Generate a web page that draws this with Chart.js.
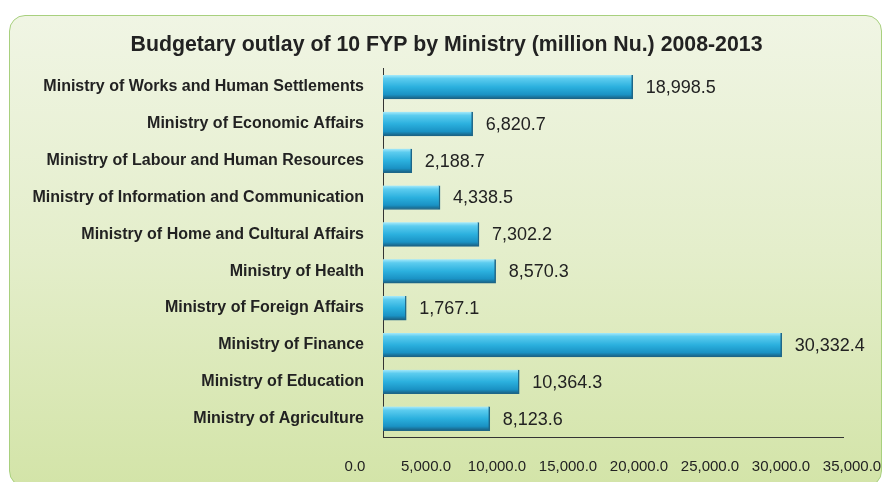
<!DOCTYPE html>
<html>
<head>
<meta charset="utf-8">
<script src="https://cdn.jsdelivr.net/npm/chart.js@4.4.1/dist/chart.umd.min.js"></script>
<style>
  body { margin: 0; background: #fff; }
  #panel {
    position: absolute; left: 9px; top: 15px; width: 871px; height: 470px;
    border: 1.5px solid #a8d07e; border-radius: 16px;
    background: linear-gradient(to bottom, #f0f5e4 0%, #e4eecb 50%, #d3e4a8 100%);
  }
  #wrap { position: absolute; left: 0; top: 0; width: 884px; height: 482px; }
</style>
</head>
<body>
<div id="panel"></div>
<div id="wrap"><canvas id="budget-chart" width="884" height="482"></canvas></div>
<script>
var ministries = [
    'Ministry of Works and Human Settlements',
    'Ministry of Economic Affairs',
    'Ministry of Labour and Human Resources',
    'Ministry of Information and Communication',
    'Ministry of Home and Cultural Affairs',
    'Ministry of Health',
    'Ministry of Foreign Affairs',
    'Ministry of Finance',
    'Ministry of Education',
    'Ministry of Agriculture'
];
var outlay = [18998.5, 6820.7, 2188.7, 4338.5, 7302.2, 8570.3, 1767.1, 30332.4, 10364.3, 8123.6];
var xTicks = [0, 5000, 10000, 15000, 20000, 25000, 30000, 35000];

function fmt(v) {
    return v.toLocaleString('en-US', {minimumFractionDigits: 1, maximumFractionDigits: 1});
}

var FONT = '"Liberation Sans", Arial, sans-serif';
var BAR_H = 24;

// give every bar its own vertical gradient once positions are known
var barShading = {
    id: 'barShading',
    afterLayout: function(chart) {
        // original title sits a little right of the canvas centre
        if (chart.titleBlock) chart.titleBlock.left = 50;
    },
    beforeDatasetsDraw: function(chart) {
        var c = chart.ctx;
        chart.getDatasetMeta(0).data.forEach(function(bar) {
            var top = bar.y - bar.height / 2, bot = bar.y + bar.height / 2;
            if (!isFinite(top) || !isFinite(bot)) return;
            var g = c.createLinearGradient(0, top, 0, bot);
            g.addColorStop(0, '#a6eafb');
            g.addColorStop(0.15, '#5cccef');
            g.addColorStop(0.5, '#2bb0de');
            g.addColorStop(0.82, '#1a92c4');
            g.addColorStop(1, '#1a5d7e');
            bar.options.backgroundColor = g;
        });
    }
};

var valueLabels = {
    id: 'valueLabels',
    afterDatasetsDraw: function(chart) {
        var c = chart.ctx;
        var meta = chart.getDatasetMeta(0);
        c.save();
        c.font = '18px ' + FONT;
        c.fillStyle = '#222';
        c.textBaseline = 'middle';
        c.textAlign = 'left';
        meta.data.forEach(function(bar, i) {
            c.fillText(fmt(outlay[i]), bar.x + 13, bar.y + 1);
        });
        c.restore();
    }
};

window.onload = function() {
    var ctx = document.getElementById('budget-chart');
    new Chart(ctx, {
        type: 'bar',
        data: {
            labels: ministries,
            datasets: [{
                data: outlay,
                xAxisID: 'x',
                // scriptable so each bar keeps its own options object
                backgroundColor: function() { return '#2bb0de'; },
                borderColor: '#1d6688',
                borderWidth: {top: 0, left: 0, right: 1.5, bottom: 1},
                borderSkipped: 'left',
                barThickness: BAR_H
            }]
        },
        options: {
            indexAxis: 'y',
            responsive: false,
            animation: false,
            layout: {padding: {left: 0, right: 41, top: 0, bottom: 9}},
            plugins: {
                legend: {display: false},
                tooltip: {enabled: false},
                title: {
                    display: true,
                    text: 'Budgetary outlay of 10 FYP by Ministry (million Nu.) 2008-2013',
                    color: '#222',
                    font: {family: FONT, size: 21.3, weight: 'bold'},
                    padding: {top: 32, bottom: 11}
                }
            },
            scales: {
                x: {
                    min: 0,
                    max: 35000,
                    weight: 0,
                    afterFit: function(scale) { scale.height = 0; },
                    grid: {display: false, drawTicks: false},
                    border: {display: true, color: '#333', width: 1},
                    ticks: {display: false}
                },
                // label-only axis: the original spreads its tick labels a bit wider than the plot
                xLabels: {
                    type: 'linear',
                    position: 'bottom',
                    axis: 'x',
                    weight: 1,
                    min: 1972,
                    max: 34366,
                    afterBuildTicks: function(scale) {
                        scale.ticks = xTicks.map(function(v) { return {value: v}; });
                    },
                    afterFit: function(scale) {
                        scale.height = 36;
                        scale.paddingLeft = 0;
                        scale.paddingRight = 0;
                    },
                    grid: {display: false, drawTicks: false},
                    border: {display: false},
                    ticks: {
                        autoSkip: false,
                        maxRotation: 0,
                        padding: 21,
                        color: '#222',
                        font: {family: FONT, size: 15},
                        callback: function(v) { return fmt(v); }
                    }
                },
                y: {
                    afterFit: function(scale) { scale.width = 383; },
                    grid: {display: false, drawTicks: false},
                    border: {display: true, color: '#333', width: 1},
                    ticks: {
                        padding: 19,
                        color: '#222',
                        font: {family: FONT, size: 16, weight: 'bold'}
                    }
                }
            }
        },
        plugins: [barShading, valueLabels]
    });
};
</script>
</body>
</html>
